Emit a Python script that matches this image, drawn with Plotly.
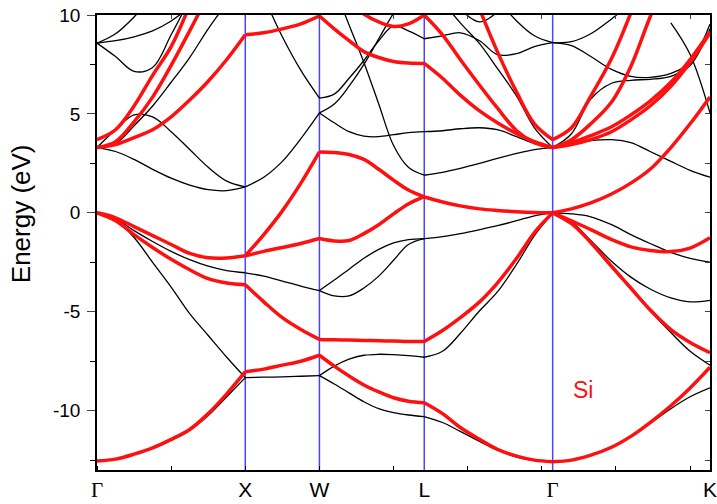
import plotly.graph_objects as go

# high-symmetry points along the k-path (units of 2pi/a)
K_NODES = [0.0, 1.0, 1.5, 2.207, 3.073, 4.134]
K_LABELS = ["Γ", "X", "W", "L", "Γ", "K"]

# sample positions inside each segment
K_GX = [0.0, 0.125, 0.25, 0.375, 0.5, 0.625, 0.75, 0.875, 1.0]
K_XW = [1.0, 1.125, 1.25, 1.375, 1.5]
K_WL = [1.5, 1.6, 1.7, 1.8, 1.9, 2.0, 2.1, 2.207]
K_LG = [2.207, 2.33, 2.45, 2.58, 2.70, 2.83, 2.95, 3.073]
K_GK = [3.073, 3.2, 3.33, 3.47, 3.6, 3.73, 3.87, 4.0, 4.134]

# energies (eV), one list per band
GX_BLACK = [
    [-12.55, -12.45, -12.2, -11.9, -11.5, -11.0, -10.25, -9.3, -8.33],
    [0.0, -0.35, -1.25, -2.5, -3.75, -5.1, -6.2, -7.3, -8.33],
    [0.0, -0.3, -0.9, -1.45, -1.95, -2.37, -2.7, -2.92, -3.03],
    [3.3, 3.1, 2.7, 2.2, 1.75, 1.4, 1.17, 1.12, 1.31],
    [3.3, 4.2, 4.95, 4.85, 4.1, 3.2, 2.3, 1.6, 1.31],
    [3.3, 3.5, 4.4, 5.4, 6.6, 7.85, 9.3, 10.6, None],
    [8.58, 9.05, 9.9, 11.0, None, None, None, None, None],
    [8.58, 8.7, 8.9, 9.2, 9.7, 10.4, None, None, None],
    [8.58, 7.9, 7.15, 7.35, 9.0, 10.8, None, None, None],
]
GX_RED = [
    [-12.55, -12.45, -12.2, -11.88, -11.45, -10.95, -10.15, -9.15, -8.03],
    [0.0, -0.25, -0.7, -1.15, -1.6, -2.05, -2.27, -2.28, -2.17],
    [0.0, -0.4, -1.1, -1.75, -2.35, -2.88, -3.33, -3.55, -3.64],
    [3.3, 3.45, 3.8, 4.2, 4.85, 5.7, 6.65, 7.75, 9.0],
    [3.7, 4.2, 5.4, 6.95, 8.4, 10.5, None, None, None],
    [3.3, 3.6, 4.6, 5.85, 7.45, 9.2, 11.0, None, None],
]

XW_BLACK = [
    [1.31, 1.8, 2.6, 3.75, 5.05],
    [None, 10.9, 8.9, 7.2, 5.8],
    [-3.03, -3.2, -3.45, -3.7, -3.93],
    [-8.33, -8.31, -8.29, -8.26, -8.23],
]
XW_RED = [
    [9.0, 9.1, 9.3, 9.55, 9.95],
    [-2.17, -1.1, 0.1, 1.5, 3.08],
    [-2.17, -1.95, -1.75, -1.55, -1.3],
    [-3.64, -4.5, -5.3, -5.9, -6.4],
    [-8.03, -7.9, -7.7, -7.5, -7.2],
]

WL_BLACK = [
    [5.8, 6.0, 6.8, 7.7, 8.7, 9.45, 9.2, 8.8],
    [5.05, 5.5, 6.4, 7.5, 8.8, 10.1, 11.3, None],
    [5.05, 4.55, 4.1, 3.88, 3.85, 3.95, 4.05, 4.1],
    [None, 11.4, 9.5, 7.6, 5.5, 3.4, 2.3, 1.9],
    [-3.93, -3.4, -2.85, -2.3, -1.85, -1.52, -1.35, -1.3],
    [-3.93, -4.2, -4.2, -3.8, -3.2, -2.4, -1.6, -1.3],
    [-8.23, -7.75, -7.4, -7.2, -7.15, -7.17, -7.22, -7.3],
    [-8.23, -8.65, -9.1, -9.55, -9.9, -10.1, -10.22, -10.3],
]
WL_RED = [
    [9.95, 9.3, 8.7, 8.15, 7.85, 7.65, 7.57, 7.55],
    [None, None, 10.7, 10.05, 9.65, 9.42, 9.55, 10.0],
    [3.08, 3.05, 2.95, 2.7, 2.2, 1.65, 1.15, 0.8],
    [-1.3, -1.42, -1.4, -1.05, -0.6, -0.05, 0.45, 0.82],
    [-6.4, -6.42, -6.43, -6.45, -6.47, -6.48, -6.5, -6.5],
    [-7.2, -7.75, -8.25, -8.7, -9.05, -9.35, -9.52, -9.6],
]

LG_BLACK = [
    [8.8, 8.95, 9.1, 8.7, 8.0, 8.05, 8.4, 8.6],
    [4.1, 4.15, 4.25, 4.3, 4.2, 3.85, 3.5, 3.3],
    [1.9, 2.05, 2.25, 2.5, 2.75, 3.0, 3.2, 3.3],
    [None, 10.7, 9.6, 8.55, 7.3, 5.9, 4.3, 3.3],
    [None, None, 10.3, 9.65, 10.15, None, None, None],
    [None, None, None, None, 10.8, 9.7, 8.95, 8.6],
    [-1.3, -1.2, -1.05, -0.85, -0.65, -0.4, -0.15, 0.0],
    [-7.3, -7.0, -6.1, -4.95, -4.0, -2.6, -1.15, 0.0],
    [-10.3, -10.6, -11.05, -11.55, -12.0, -12.35, -12.52, -12.58],
]
LG_RED = [
    [10.0, 9.0, 7.75, 6.45, 5.3, 4.15, 3.55, 3.3],
    [7.55, 6.8, 5.95, 5.15, 4.55, 4.0, 3.6, 3.3],
    [None, None, None, 10.3, 8.15, 6.1, 4.5, 3.7],
    [0.8, 0.55, 0.35, 0.2, 0.12, 0.06, 0.02, 0.0],
    [-6.5, -5.95, -5.3, -4.5, -3.55, -2.3, -1.0, 0.0],
    [-9.6, -10.15, -10.85, -11.45, -11.95, -12.3, -12.5, -12.58],
]

GK_BLACK = [
    [0.0, -0.05, -0.2, -0.6, -1.1, -1.55, -2.0, -2.3, -2.5],
    [0.0, -0.45, -1.4, -2.45, -3.25, -3.85, -4.3, -4.5, -4.42],
    [0.0, -0.55, -1.55, -2.75, -3.85, -4.95, -6.05, -7.0, -7.7],
    [-12.58, -12.5, -12.25, -11.85, -11.3, -10.65, -9.9, -9.3, -8.85],
    [3.3, 3.5, 3.65, 3.7, 3.55, 3.1, 2.6, 2.15, 1.8],
    [3.3, 4.0, 5.75, 6.55, 6.7, 6.75, 6.9, 7.45, 9.3],
    [8.6, 8.45, 7.9, 7.25, 6.9, 6.85, 7.05, 7.6, 9.55],
    [8.6, 8.65, 9.05, 9.8, 10.6, None, None, None, None],
    [None, None, None, None, None, None, 9.6, 8.0, 5.05],
]
GK_RED = [
    [0.0, -0.4, -0.85, -1.35, -1.72, -1.9, -1.96, -1.78, -1.26],
    [0.0, -0.55, -1.5, -2.7, -3.8, -4.9, -5.9, -6.55, -7.07],
    [0.0, 0.2, 0.5, 0.95, 1.5, 2.2, 3.3, 4.5, 5.86],
    [3.3, 3.45, 3.7, 4.1, 4.7, 5.4, 6.4, 7.6, 9.1],
    [3.3, 3.55, 3.9, 4.35, 4.95, 5.65, 6.6, 7.75, 9.15],
    [3.7, 4.3, 5.9, 7.8, 10.1, None, None, None, None],
    [3.3, 3.7, 4.5, 5.6, 7.4, 9.9, 12.3, None, None],
    [-12.58, -12.5, -12.25, -11.85, -11.3, -10.6, -9.75, -8.85, -7.8],
]

SEGMENTS = [
    (K_GX, GX_BLACK, GX_RED),
    (K_XW, XW_BLACK, XW_RED),
    (K_WL, WL_BLACK, WL_RED),
    (K_LG, LG_BLACK, LG_RED),
    (K_GK, GK_BLACK, GK_RED),
]

E_RANGE = [-13, 10]
FONT = "Liberation Sans, Arial, sans-serif"

fig = go.Figure()

# blue lines at the inner high-symmetry points
for k in K_NODES[1:-1]:
    fig.add_trace(go.Scatter(
        x=[k, k], y=E_RANGE, mode="lines",
        line=dict(color="#4646ff", width=1.5),
        hoverinfo="skip", showlegend=False,
    ))

for ks, black, red in SEGMENTS:
    for e in black:
        fig.add_trace(go.Scatter(
            x=ks, y=e, mode="lines",
            line=dict(color="black", width=1.3, shape="spline"),
            hoverinfo="skip", showlegend=False,
        ))
for ks, black, red in SEGMENTS:
    for e in red:
        fig.add_trace(go.Scatter(
            x=ks, y=e, mode="lines",
            line=dict(color="#ff1010", width=3.5, shape="spline"),
            hoverinfo="skip", showlegend=False,
        ))

# dummy trace so the mirrored top/right axes get drawn
fig.add_trace(go.Scatter(x=[0], y=[0], xaxis="x2", yaxis="y2", mode="markers",
                         marker=dict(opacity=0), showlegend=False,
                         hoverinfo="skip"))

tick_text = [
    "<span style='font-family:Liberation Serif'>Γ</span>" if t == "Γ" else t
    for t in K_LABELS
]

fig.add_annotation(x=3.277, y=-8.94, text="Si", showarrow=False,
                   font=dict(family=FONT, size=23, color="#ff1010"))
# y title placed by hand (it sits above the axis centre in the original)
fig.add_annotation(x=-0.125, y=0.563, xref="paper", yref="paper",
                   text="Energy (eV)", textangle=-90, showarrow=False,
                   xanchor="center", yanchor="middle",
                   font=dict(family=FONT, size=26))

fig.update_layout(
    width=717,
    height=504,
    margin=dict(l=97, r=7, t=15, b=34, autoexpand=False),
    paper_bgcolor="white",
    plot_bgcolor="white",
    font=dict(family=FONT, color="black"),
    xaxis=dict(
        range=[K_NODES[0], K_NODES[-1]],
        automargin=False,
        tickmode="array",
        tickvals=K_NODES,
        ticktext=tick_text,
        ticks="",
        tickfont=dict(size=21),
        ticklabelstandoff=0,
        ticklabeloverflow="allow",
        showgrid=False,
        zeroline=False,
        showline=True,
        linecolor="black",
        linewidth=1.5,
        mirror=True,
        minor=dict(tickmode="linear", tick0=0, dtick=0.5, ticks="inside",
                   ticklen=4, tickcolor="black", showgrid=False),
    ),
    yaxis=dict(
        range=E_RANGE,
        automargin=False,
        tickmode="array",
        tickvals=[-10, -5, 0, 5, 10],
        ticktext=["-10", "-5", "0", "5", "10"],
        ticks="outside",
        ticklen=8,
        tickwidth=1.2,
        tickfont=dict(size=19),
        ticklabelstandoff=3,
        ticklabeloverflow="allow",
        showgrid=False,
        zeroline=False,
        showline=True,
        linecolor="black",
        linewidth=1.5,
        mirror=True,
        minor=dict(tickmode="linear", tick0=0, dtick=2.5, ticks="outside",
                   ticklen=5, tickcolor="black", showgrid=False),
    ),
    xaxis2=dict(
        overlaying="x", side="top", anchor="y2", automargin=False,
        range=[K_NODES[0], K_NODES[-1]],
        tickmode="linear", tick0=0, dtick=0.5,
        showticklabels=False, ticks="inside", ticklen=4,
        showgrid=False, zeroline=False,
    ),
    yaxis2=dict(
        overlaying="y", side="right", anchor="x2", automargin=False,
        range=E_RANGE,
        tickmode="linear", tick0=0, dtick=2.5,
        showticklabels=False, ticks="inside", ticklen=5,
        showgrid=False, zeroline=False,
    ),
)

# drop the browser's default page margin so the figure sits at the corner
fig.write_html("out.html",
               config={"displayModeBar": False},
               post_script="document.body.style.margin='0';")
